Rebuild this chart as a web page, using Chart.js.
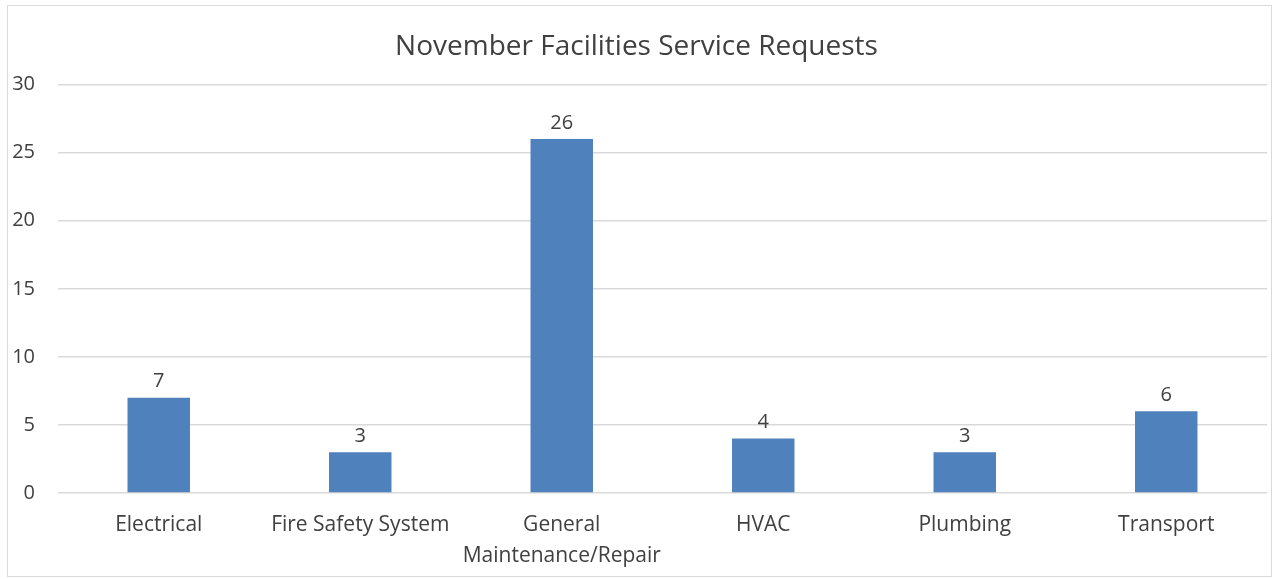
<!DOCTYPE html>
<html>
<head>
<meta charset="utf-8">
<script src="https://cdn.jsdelivr.net/npm/chart.js@4/dist/chart.umd.min.js"></script>
<style>
html,body{margin:0;padding:0;background:#fff;}
#wrap{position:absolute;left:0;top:0;width:1273px;height:579px;}
</style>
</head>
<body>
<div id="wrap"><canvas id="c" width="1273" height="579"></canvas></div>
<script>
const categories = ['Electrical', 'Fire Safety System', ['General', 'Maintenance/Repair'], 'HVAC', 'Plumbing', 'Transport'];
const requests = [7, 3, 26, 4, 3, 6];
const yTicks = [0, 5, 10, 15, 20, 25, 30];
const chartTitle = 'November Facilities Service Requests';

const FONT = '"Open Sans", Lato, sans-serif';
const TEXT = '#404040';

const frame = {
  id: 'frame',
  beforeDraw(chart) {
    const ctx = chart.ctx;
    ctx.save();
    ctx.fillStyle = '#fff';
    ctx.fillRect(0, 0, chart.width, chart.height);
    ctx.strokeStyle = '#d9d9d9';
    ctx.lineWidth = 1;
    ctx.strokeRect(7.5, 5.5, 1264, 571);
    ctx.restore();
  }
};

const valueLabels = {
  id: 'valueLabels',
  afterDatasetsDraw(chart) {
    const ctx = chart.ctx;
    const meta = chart.getDatasetMeta(0);
    ctx.save();
    ctx.fillStyle = TEXT;
    ctx.font = '20px ' + FONT;
    ctx.textAlign = 'center';
    ctx.textBaseline = 'bottom';
    meta.data.forEach((bar, i) => {
      ctx.fillText(String(chart.data.datasets[0].data[i]), bar.x, bar.y - 6);
    });
    ctx.restore();
  }
};

new Chart(document.getElementById('c'), {
  type: 'bar',
  data: {
    labels: categories,
    datasets: [{
      data: requests,
      backgroundColor: '#4f81bd',
      borderWidth: 0,
      categoryPercentage: 1,
      barPercentage: 0.31
    }]
  },
  options: {
    responsive: false,
    animation: false,
    layout: { padding: { left: 6, right: 6, top: 10, bottom: 0 } },
    plugins: {
      legend: { display: false },
      tooltip: { enabled: false },
      title: {
        display: true,
        text: chartTitle,
        color: TEXT,
        font: { family: FONT, size: 28, weight: 'normal' },
        padding: { top: 20, bottom: 21 }
      }
    },
    scales: {
      y: {
        min: 0, max: 30,
        afterBuildTicks(s) { s.ticks = yTicks.map(v => ({ value: v })); },
        afterFit(s) { s.width = 52; },
        border: { display: false },
        grid: { color: '#d9d9d9', lineWidth: 1.5, drawTicks: false },
        ticks: { color: TEXT, font: { family: FONT, size: 20 }, padding: 23 }
      },
      x: {
        afterFit(s) { s.height = 86; },
        border: { display: false },
        grid: { display: false, drawTicks: false },
        ticks: { color: TEXT, font: { family: FONT, size: 21, lineHeight: 1.45 }, padding: 17, maxRotation: 0, autoSkip: false }
      }
    }
  },
  plugins: [frame, valueLabels]
});
</script>
</body>
</html>
